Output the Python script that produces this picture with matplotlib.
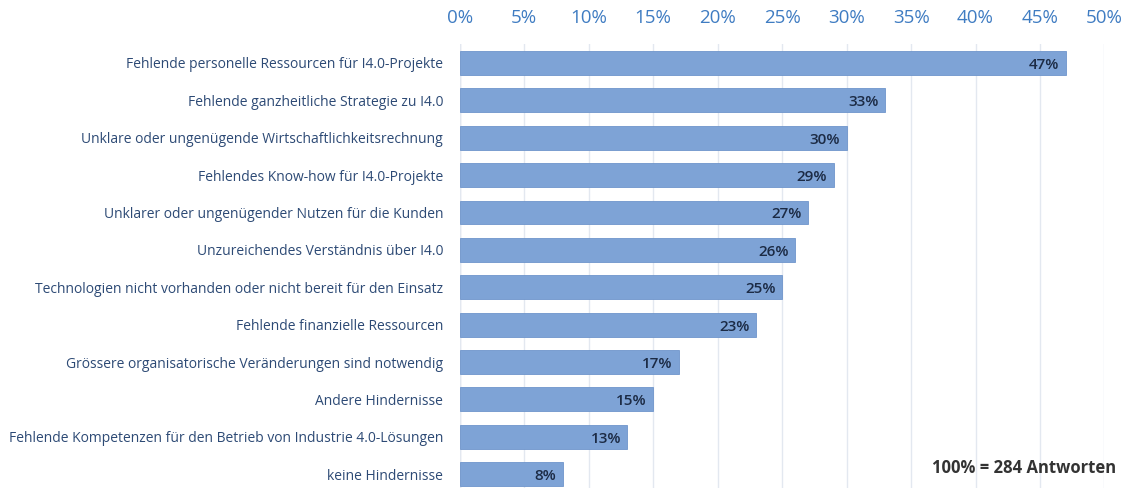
import matplotlib.pyplot as plt
from matplotlib.ticker import FuncFormatter

categories = [
    "Fehlende personelle Ressourcen für I4.0-Projekte",
    "Fehlende ganzheitliche Strategie zu I4.0",
    "Unklare oder ungenügende Wirtschaftlichkeitsrechnung",
    "Fehlendes Know-how für I4.0-Projekte",
    "Unklarer oder ungenügender Nutzen für die Kunden",
    "Unzureichendes Verständnis über I4.0",
    "Technologien nicht vorhanden oder nicht bereit für den Einsatz",
    "Fehlende finanzielle Ressourcen",
    "Grössere organisatorische Veränderungen sind notwendig",
    "Andere Hindernisse",
    "Fehlende Kompetenzen für den Betrieb von Industrie 4.0-Lösungen",
    "keine Hindernisse",
]
values = [47, 33, 30, 29, 27, 26, 25, 23, 17, 15, 13, 8]
ticks = [0, 5, 10, 15, 20, 25, 30, 35, 40, 45, 50]

plt.rcParams['font.family'] = ['Open Sans', 'DejaVu Sans']

fig = plt.figure(figsize=(11.27, 4.88), dpi=100)
ax = fig.add_axes([0.408, 0.0, 0.572, 0.91])

y = list(range(len(categories)))
ax.barh(y, values, height=0.64, color='#7ea3d6', edgecolor='#6f95cb', linewidth=0.6, zorder=2)

for yi, v in zip(y, values):
    ax.text(v - 0.5, yi + 0.05, f"{v}%", ha='right', va='center',
            fontsize=11, fontweight='semibold', color='#1c2b45', zorder=3)

ax.set_xlim(0, 50)
ax.set_ylim(11.37, -0.51)
ax.set_xticks(ticks)
ax.xaxis.set_major_formatter(FuncFormatter(lambda v, p: f"{int(v)}%"))
ax.xaxis.tick_top()
ax.tick_params(axis='x', length=0, labelsize=13.5, labelcolor='#3f7cc2', pad=12)
ax.set_yticks(y)
ax.set_yticklabels(categories)
ax.tick_params(axis='y', length=0, labelsize=10, labelcolor='#2d4a75', pad=12)

ax.grid(axis='x', color='#e3e8f0', linewidth=1, zorder=0)
for s in ax.spines.values():
    s.set_visible(False)

ax.axvline(0, color='#d8dde6', linewidth=1, zorder=1)

ax.text(1.018, 0.045, "100% = 284 Antworten", transform=ax.transAxes,
        ha='right', va='center', fontsize=12, fontweight='bold', color='#333333')

fig.savefig("out.png", dpi=100)
